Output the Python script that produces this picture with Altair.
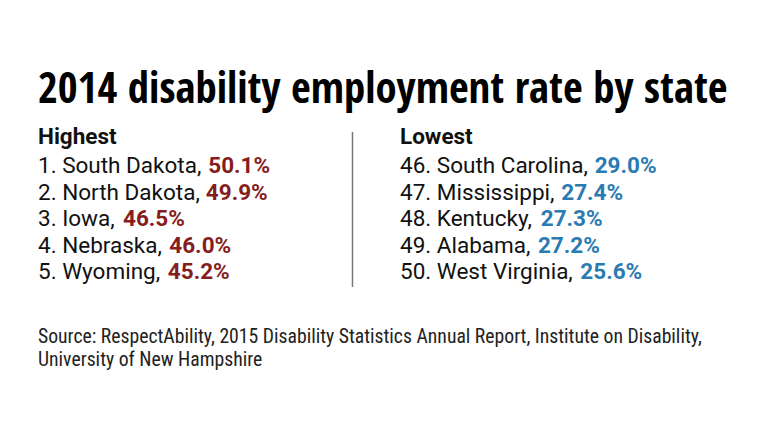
import altair as alt
import pandas as pd

# ---- data ----
title_text = "2014 disability employment rate by state"
high_ranks = [1, 2, 3, 4, 5]
high_states = ["South Dakota", "North Dakota", "Iowa", "Nebraska", "Wyoming"]
high_values = [50.1, 49.9, 46.5, 46.0, 45.2]
low_ranks = [46, 47, 48, 49, 50]
low_states = ["South Carolina", "Mississippi", "Kentucky", "Alabama", "West Virginia"]
low_values = [29.0, 27.4, 27.3, 27.2, 25.6]
headers = ["Highest", "Lowest"]
source_lines = [
    "Source: RespectAbility, 2015 Disability Statistics Annual Report, Institute on Disability,",
    "University of New Hampshire",
]

# ---- layout ----
W, H = 736, 395
col_x = [30, 392]
BODY_SIZE = 22.5
GAP = 4
RED = "#861d1d"
BLUE = "#2b7bb3"
BODY_FONT = "Roboto"

# approximate Roboto Regular advance widths (units per 2048 em), used to place the
# bold value right after its regular-weight label
_ADV = {" ": 507, ",": 393, ".": 527, "A": 1336, "C": 1334, "D": 1344, "I": 556, "K": 1286,
        "M": 1767, "N": 1425, "S": 1216, "V": 1303, "W": 1817, "a": 1087, "b": 1122,
        "c": 1046, "d": 1128, "e": 1059, "g": 1120, "h": 1102, "i": 486, "k": 1015,
        "l": 486, "m": 1754, "n": 1104, "o": 1141, "p": 1122, "r": 677, "s": 1031,
        "t": 653, "u": 1103, "v": 968, "w": 1503, "y": 947}


def text_width(s, size):
    return sum(_ADV.get(ch, 1150) for ch in s) / 2048 * size


rows = []
for col, (ranks, states, vals, grp) in enumerate([
        (high_ranks, high_states, high_values, "high"),
        (low_ranks, low_states, low_values, "low")]):
    for i, (r, s, v) in enumerate(zip(ranks, states, vals)):
        label = f"{r}. {s},"
        rows.append(dict(row=i + 1, lx=col_x[col],
                         vx=col_x[col] + text_width(label + " ", BODY_SIZE) + GAP,
                         label=label, value=f"{v:.1f}%", group=grp))
df = pd.DataFrame(rows)
hdr = pd.DataFrame({"hx": col_x, "text": headers})
src = pd.DataFrame({"line": [0, 1], "text": source_lines})

xs = alt.Scale(domain=[0, W], range=[0, W])
ys = alt.Scale(domain=[1, 5], range=[165, 271])

base = alt.Chart(df)

labels = base.mark_text(align="left", baseline="alphabetic", font=BODY_FONT,
                        fontSize=BODY_SIZE, color="#111111").encode(
    x=alt.X("lx:Q", scale=xs, axis=None),
    y=alt.Y("row:Q", scale=ys, axis=None),
    text="label:N",
)

values = base.mark_text(align="left", baseline="alphabetic", font=BODY_FONT,
                        fontSize=BODY_SIZE, fontWeight="bold").encode(
    x=alt.X("vx:Q", scale=xs, axis=None),
    y=alt.Y("row:Q", scale=ys, axis=None),
    text="value:N",
    color=alt.Color("group:N", scale=alt.Scale(domain=["high", "low"], range=[RED, BLUE]), legend=None),
)

header_layer = alt.Chart(hdr).mark_text(align="left", baseline="alphabetic", font=BODY_FONT,
                                        fontSize=BODY_SIZE, fontWeight="bold", color="#111111").encode(
    x=alt.X("hx:Q", scale=xs, axis=None),
    y=alt.value(136),
    text="text:N",
)

title_layer = alt.Chart(pd.DataFrame({"t": [title_text]})).mark_text(
    align="left", baseline="alphabetic", font="Open Sans Condensed",
    fontSize=42.8, fontWeight="bold", color="#000000").encode(
    x=alt.value(30), y=alt.value(95), text="t:N")

source_layer = alt.Chart(src).mark_text(
    align="left", baseline="alphabetic", font="Roboto Condensed",
    fontSize=19.7, color="#222222").encode(
    x=alt.value(30),
    y=alt.Y("line:Q", scale=alt.Scale(domain=[0, 1], range=[335, 358]), axis=None),
    text="text:N")

divider = alt.Chart(pd.DataFrame({"a": [0]})).mark_rule(color="#777777", strokeWidth=1.5).encode(
    x=alt.value(344.5), y=alt.value(124), y2=alt.value(279))

chart = alt.layer(title_layer, header_layer, labels, values, divider, source_layer).resolve_scale(
    y="independent"
).properties(width=W, height=H, padding=0, background="white").configure_view(stroke=None)

chart.save("out.html", embed_options={"renderer": "svg", "actions": False})
